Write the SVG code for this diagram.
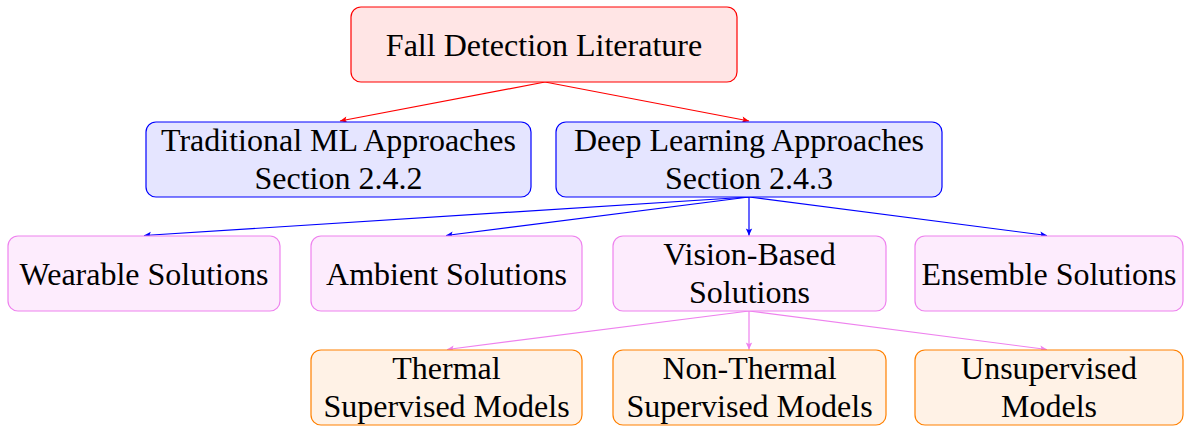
<svg xmlns="http://www.w3.org/2000/svg" width="1184" height="426" viewBox="0 0 1184 426">
  <style>
    text { font-family: "Liberation Serif", "Times New Roman", serif; font-size: 32px; fill: #000; text-anchor: middle; }
    .box { stroke-width: 1.2; }
    .red { fill: #ffe5e5; stroke: #ff0000; }
    .blue { fill: #e5e5ff; stroke: #0000ff; }
    .violet { fill: #fdecfd; stroke: #ee82ee; }
    .orange { fill: #fff2e6; stroke: #ff8000; }
    .edge { fill: none; stroke-width: 1.2; }
    .e-red { stroke: #ff0000; marker-end: url(#ah-red); }
    .e-blue { stroke: #0000ff; marker-end: url(#ah-blue); }
    .e-violet { stroke: #ee82ee; marker-end: url(#ah-violet); }
  </style>
  <defs>
    <marker id="ah-red" viewBox="-8 -4 9 8" refX="0" refY="0" markerWidth="9" markerHeight="8" markerUnits="userSpaceOnUse" orient="auto">
      <path d="M0,0 L-7,-3.2 L-5.5,0 L-7,3.2 Z" fill="#ff0000"/>
    </marker>
    <marker id="ah-blue" viewBox="-8 -4 9 8" refX="0" refY="0" markerWidth="9" markerHeight="8" markerUnits="userSpaceOnUse" orient="auto">
      <path d="M0,0 L-7,-3.2 L-5.5,0 L-7,3.2 Z" fill="#0000ff"/>
    </marker>
    <marker id="ah-violet" viewBox="-8 -4 9 8" refX="0" refY="0" markerWidth="9" markerHeight="8" markerUnits="userSpaceOnUse" orient="auto">
      <path d="M0,0 L-7,-3.2 L-5.5,0 L-7,3.2 Z" fill="#ee82ee"/>
    </marker>
  </defs>

  <!-- connectors -->
  <g id="connectors">
    <line class="edge e-red" x1="545" y1="82" x2="340" y2="121"/>
    <line class="edge e-red" x1="545" y1="82" x2="749" y2="121"/>
    <line class="edge e-blue" x1="749" y1="197" x2="144" y2="235.5"/>
    <line class="edge e-blue" x1="749" y1="197" x2="446" y2="235.5"/>
    <line class="edge e-blue" x1="749" y1="197" x2="749" y2="235.5"/>
    <line class="edge e-blue" x1="749" y1="197" x2="1047" y2="235.5"/>
    <line class="edge e-violet" x1="749" y1="311" x2="447" y2="349.5"/>
    <line class="edge e-violet" x1="749" y1="311" x2="749" y2="349.5"/>
    <line class="edge e-violet" x1="749" y1="311" x2="1047" y2="349.5"/>
  </g>

  <!-- root -->
  <g id="root">
    <rect class="box red" x="351" y="7" width="386" height="75" rx="10"/>
    <text x="544" y="56">Fall Detection Literature</text>
  </g>

  <!-- approaches -->
  <g id="traditional">
    <rect class="box blue" x="146" y="122" width="385" height="75" rx="10"/>
    <text x="338.5" y="151">Traditional ML Approaches</text>
    <text x="338.5" y="189">Section 2.4.2</text>
  </g>
  <g id="deep">
    <rect class="box blue" x="556" y="122" width="386" height="75" rx="10"/>
    <text x="749" y="151">Deep Learning Approaches</text>
    <text x="749" y="189">Section 2.4.3</text>
  </g>

  <!-- solution families -->
  <g id="wearable">
    <rect class="box violet" x="8" y="236" width="272" height="75" rx="10"/>
    <text x="144" y="285">Wearable Solutions</text>
  </g>
  <g id="ambient">
    <rect class="box violet" x="311" y="236" width="271" height="75" rx="10"/>
    <text x="446.5" y="285">Ambient Solutions</text>
  </g>
  <g id="vision">
    <rect class="box violet" x="613" y="236" width="273" height="75" rx="10"/>
    <text x="749.5" y="265">Vision-Based</text>
    <text x="749.5" y="303">Solutions</text>
  </g>
  <g id="ensemble">
    <rect class="box violet" x="915" y="236" width="268" height="75" rx="10"/>
    <text x="1049" y="285">Ensemble Solutions</text>
  </g>

  <!-- vision-based model types -->
  <g id="thermal">
    <rect class="box orange" x="311" y="350" width="271" height="75" rx="10"/>
    <text x="446.5" y="379">Thermal</text>
    <text x="446.5" y="417">Supervised Models</text>
  </g>
  <g id="nonthermal">
    <rect class="box orange" x="613" y="350" width="273" height="75" rx="10"/>
    <text x="749.5" y="379">Non-Thermal</text>
    <text x="749.5" y="417">Supervised Models</text>
  </g>
  <g id="unsupervised">
    <rect class="box orange" x="915" y="350" width="268" height="75" rx="10"/>
    <text x="1049" y="379">Unsupervised</text>
    <text x="1049" y="417">Models</text>
  </g>
</svg>
